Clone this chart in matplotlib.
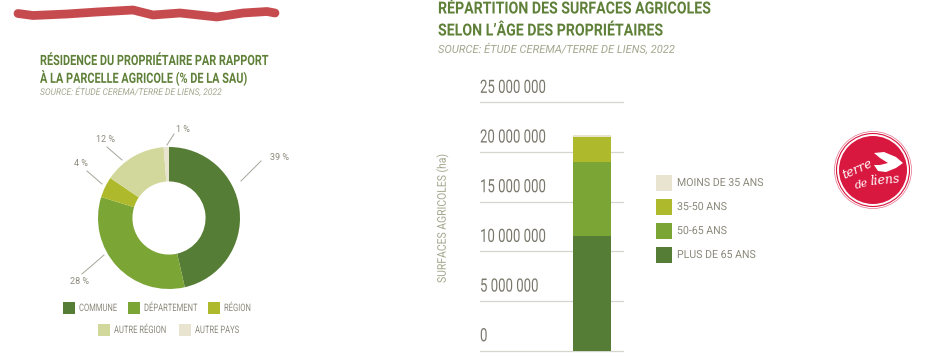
import matplotlib
matplotlib.use('Agg')
import matplotlib.pyplot as plt
from matplotlib.patches import Circle, Polygon, Rectangle
from matplotlib.patheffects import AbstractPathEffect
from matplotlib.transforms import Affine2D

FONT = 'Roboto'
W, H = 926, 356

# donut data
donut_names = ['COMMUNE', 'DÉPARTEMENT', 'RÉGION', 'AUTRE RÉGION', 'AUTRE PAYS']
donut_values = [39, 28, 4, 12, 1]
donut_colors = ['#567D35', '#7BA535', '#AEB92B', '#D2D79C', '#E8E4D0']
donut_labels = ['39 %', '28 %', '4 %', '12 %', '1 %']

# stacked bar data, bottom to top
age_names = ['PLUS DE 65 ANS', '50-65 ANS', '35-50 ANS', 'MOINS DE 35 ANS']
age_values = [11540000, 7440000, 2490000, 230000]
age_colors = ['#567D35', '#7BA535', '#AEB92B', '#E8E4D0']
y_ticks = [0, 5000000, 10000000, 15000000, 20000000, 25000000]
y_tick_labels = ['0', '5 000 000', '10 000 000', '15 000 000', '20 000 000', '25 000 000']

# red scribble across the top
scribble_x = [18, 33, 67, 97, 133, 153, 180, 217, 243, 267, 275]
scribble_y = [13.5, 15.5, 14, 12, 10, 15, 13, 17, 13, 11.5, 13]

TITLE = '#5F8038'
SOURCE = '#A3A88E'
GREY = '#8C8A7C'


class Squeeze(AbstractPathEffect):
    # no condensed font installed, so narrow the glyphs along the baseline
    def __init__(self, sx):
        super().__init__()
        self.sx = sx

    def draw_path(self, renderer, gc, tpath, affine, rgbFace=None):
        renderer.draw_path(gc, tpath, Affine2D().scale(self.sx, 1) + affine, rgbFace)


def px_axes(fig, x0, y0, x1, y1):
    return fig.add_axes([x0 / W, 1 - y1 / H, (x1 - x0) / W, (y1 - y0) / H])


def main():
    fig = plt.figure(figsize=(W / 100, H / 100), dpi=100, facecolor='white')

    # overlay in pixel coordinates for titles, leaders, legends and the logo
    over = fig.add_axes([0, 0, 1, 1], zorder=3)
    over.set_xlim(0, W)
    over.set_ylim(H, 0)
    over.axis('off')
    over.patch.set_alpha(0)

    def label(x, y, s, sx, **kw):
        t = over.text(x, y, s, family=FONT, ha='left', va='center', **kw)
        t.set_path_effects([Squeeze(sx)])
        return t

    over.plot(scribble_x, scribble_y, color='#C64B4E', lw=6.3, solid_capstyle='round')

    label(40, 61, 'RÉSIDENCE DU PROPRIÉTAIRE PAR RAPPORT', 0.77, color=TITLE, fontsize=10.2, fontweight='bold')
    label(40, 78, 'À LA PARCELLE AGRICOLE (% DE LA SAU)', 0.77, color=TITLE, fontsize=10.2, fontweight='bold')
    label(40, 92, 'SOURCE: ÉTUDE CEREMA/TERRE DE LIENS, 2022', 0.93, color=SOURCE, fontsize=6.6, style='italic')

    label(438, 9, 'RÉPARTITION DES SURFACES AGRICOLES', 0.85, color=TITLE, fontsize=12, fontweight='bold')
    label(438, 31, 'SELON L’ÂGE DES PROPRIÉTAIRES', 0.85, color=TITLE, fontsize=12, fontweight='bold')
    label(438, 49, 'SOURCE: ÉTUDE CEREMA/TERRE DE LIENS, 2022', 1.0, color=SOURCE, fontsize=8, style='italic')

    # donut
    ax = px_axes(fig, 98, 147, 240, 289)
    ax.pie(donut_values, colors=donut_colors, startangle=90, counterclock=False, radius=1,
           wedgeprops={'width': 0.485})
    ax.set_xlim(-1, 1)
    ax.set_ylim(-1, 1)

    leaders = [((241, 181), (261, 161)), ((104, 255), (82, 274)), ((102, 184), (87, 171)),
               ((122, 160), (107, 147)), ((167, 145), (174, 134))]
    label_pos = [(279, 157), (79, 282), (81, 164), (105, 140), (183, 129)]
    for (a, b), pos, txt in zip(leaders, label_pos, donut_labels):
        over.plot([a[0], b[0]], [a[1], b[1]], color='#A5A59A', lw=0.7)
        over.text(pos[0], pos[1], txt, color=GREY, family=FONT, fontsize=6.5,
                  ha='center', va='center')

    # donut legend, two centred rows
    swatch_x = [63, 128, 208, 98, 179]
    swatch_y = [308, 308, 308, 330, 330]
    for x, y, name, col in zip(swatch_x, swatch_y, donut_names, donut_colors):
        over.add_patch(Rectangle((x, y - 6), 12, 12, color=col, lw=0))
        label(x + 16, y, name, 0.74, color=GREY, fontsize=7.4)

    # stacked bar
    bar = px_axes(fig, 480, 102.3, 622.7, 350.7)
    bottom = 0
    for val, col in zip(age_values, age_colors):
        bar.bar(0.783, val, width=0.266, bottom=bottom, color=col, zorder=2)
        bottom += val
    bar.set_xlim(0, 1)
    bar.set_ylim(0, 25000000)
    bar.set_yticks(y_ticks)
    bar.set_yticklabels([])
    bar.set_xticks([])
    bar.tick_params(length=0)
    bar.grid(axis='y', color='#D6D6CE', lw=0.9, zorder=1, clip_on=False)
    bar.set_axisbelow(True)
    for s in bar.spines.values():
        s.set_visible(False)
    bar.patch.set_alpha(0)
    for t, lab in zip(y_ticks, y_tick_labels):
        a = bar.annotate(lab, (0, t), xycoords=bar.get_yaxis_transform(), xytext=(0, 6.8),
                         textcoords='offset points', color='#7A786C', family=FONT,
                         fontsize=13.2, ha='left', va='baseline', annotation_clip=False)
        a.set_path_effects([Squeeze(0.72)])
    yl = over.text(442, 283, 'SURFACES AGRICOLES (ha)', color=SOURCE, family=FONT, fontsize=8.6,
                   rotation=90, rotation_mode='anchor', ha='left', va='center')
    yl.set_path_effects([Squeeze(0.87)])

    # bar legend, top entry is the youngest class
    legend_y = [255, 231, 207, 183]
    for y, name, col in zip(legend_y, age_names, age_colors):
        over.add_patch(Rectangle((656, y - 8), 16, 16, color=col, lw=0))
        label(677, y, name, 0.95, color=GREY, fontsize=8)

    # logo
    red = '#D8183F'
    over.add_patch(Circle((873, 170), 34, color=red, lw=0))
    over.add_patch(Circle((873, 170), 36.5, fill=False, ec=red, lw=0.8))
    over.add_patch(Circle((873, 170), 38.5, fill=False, ec='#E4708A', lw=0.5))
    over.add_patch(Polygon([(874, 153), (884, 152), (896, 157), (903, 163), (896, 168), (886, 172),
                            (878, 171), (874, 165), (880, 165), (888, 163), (880, 158)],
                           color='white', lw=0))
    over.text(857, 169, 'terre', color='white', family='DejaVu Serif', style='italic',
              fontsize=9, rotation=24, ha='center', va='center')
    over.text(862, 184, 'de', color='white', family='DejaVu Serif', style='italic',
              fontsize=8, rotation=15, ha='center', va='center')
    over.text(885, 180, 'liens', color='white', family='DejaVu Serif', style='italic',
              fontsize=9, rotation=5, ha='center', va='center')

    fig.savefig('out.png', dpi=100)


if __name__ == "__main__":
    main()
